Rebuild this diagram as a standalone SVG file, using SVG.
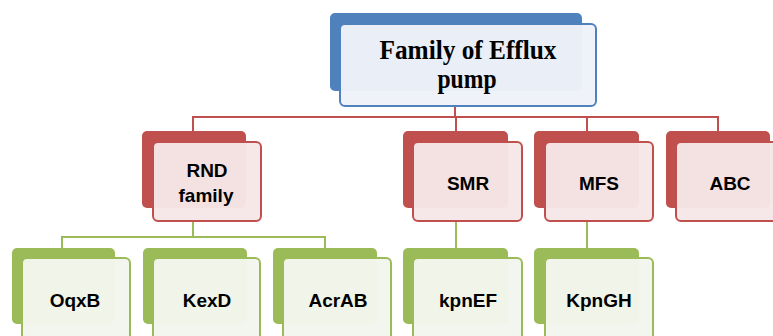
<svg xmlns="http://www.w3.org/2000/svg" width="773" height="336" viewBox="0 0 773 336">
<style>
.bk{stroke:none}
.fr{stroke-width:2}
.blue .bk{fill:#4f81bd}
.blue .fr{fill:#eef2f9;stroke:#4f81bd;fill-opacity:0.97}
.red .bk{fill:#c0504d}
.red .fr{fill:#f6e7e7;stroke:#c0504d;fill-opacity:0.97}
.green .bk{fill:#9bbb59}
.green .fr{fill:#f3f6ed;stroke:#9bbb59;fill-opacity:0.97}
.t{font-family:"Liberation Sans",Arial,sans-serif;font-weight:bold;font-size:19px;fill:#000;text-anchor:middle}
.tt{font-family:"Liberation Serif","Times New Roman",serif;font-weight:bold;font-size:28px;fill:#000;text-anchor:middle}
.cr{fill:none;stroke:#c0504d;stroke-width:2}
.cg{fill:none;stroke:#9bbb59;stroke-width:2}
</style>
<rect width="773" height="336" fill="#fff"/>
<g id="connectors">
<path class="cr" d="M455 106V117M193 131V117H718V131M456 117V131M587 117V131"/>
<path class="cg" d="M193 221V237M62 248V237H325V248M456 221V248M587 221V248"/>
</g>
<g id="n-top" class="blue">
<rect class="bk" x="330" y="13" width="252" height="78" rx="5"/>
<rect class="fr" x="340" y="24" width="256" height="82" rx="5"/>
<text class="tt" x="468" y="59" textLength="177" lengthAdjust="spacingAndGlyphs">Family of Efflux</text>
<text class="tt" x="467" y="88" textLength="59" lengthAdjust="spacingAndGlyphs">pump</text>
</g>
<g id="n-rnd" class="red">
<rect class="bk" x="142" y="131" width="104" height="77" rx="5"/>
<rect class="fr" x="153" y="142" width="108" height="79" rx="5"/>
<text class="t" x="207" y="177">RND</text>
<text class="t" x="206" y="202">family</text>
</g>
<g id="n-smr" class="red">
<rect class="bk" x="403" y="131" width="105" height="77" rx="5"/>
<rect class="fr" x="413" y="142" width="109" height="79" rx="5"/>
<text class="t" x="468" y="190">SMR</text>
</g>
<g id="n-mfs" class="red">
<rect class="bk" x="534" y="131" width="105" height="77" rx="5"/>
<rect class="fr" x="545" y="142" width="108" height="79" rx="5"/>
<text class="t" x="599" y="190">MFS</text>
</g>
<g id="n-abc" class="red">
<rect class="bk" x="666" y="131" width="104" height="77" rx="5"/>
<rect class="fr" x="676" y="142" width="108" height="79" rx="5"/>
<text class="t" x="730" y="190">ABC</text>
</g>
<g id="n-oqxb" class="green">
<rect class="bk" x="12" y="248" width="103" height="76" rx="5"/>
<rect class="fr" x="22" y="258" width="108" height="82" rx="5"/>
<text class="t" x="75" y="307">OqxB</text>
</g>
<g id="n-kexd" class="green">
<rect class="bk" x="143" y="248" width="104" height="76" rx="5"/>
<rect class="fr" x="153" y="258" width="107" height="82" rx="5"/>
<text class="t" x="207" y="307">KexD</text>
</g>
<g id="n-acrab" class="green">
<rect class="bk" x="273" y="248" width="104" height="76" rx="5"/>
<rect class="fr" x="283" y="258" width="108" height="82" rx="5"/>
<text class="t" x="338" y="307">AcrAB</text>
</g>
<g id="n-kpnef" class="green">
<rect class="bk" x="403" y="248" width="105" height="76" rx="5"/>
<rect class="fr" x="413" y="258" width="109" height="82" rx="5"/>
<text class="t" x="468" y="307">kpnEF</text>
</g>
<g id="n-kpngh" class="green">
<rect class="bk" x="534" y="248" width="105" height="76" rx="5"/>
<rect class="fr" x="545" y="258" width="108" height="82" rx="5"/>
<text class="t" x="599" y="307">KpnGH</text>
</g>
</svg>
